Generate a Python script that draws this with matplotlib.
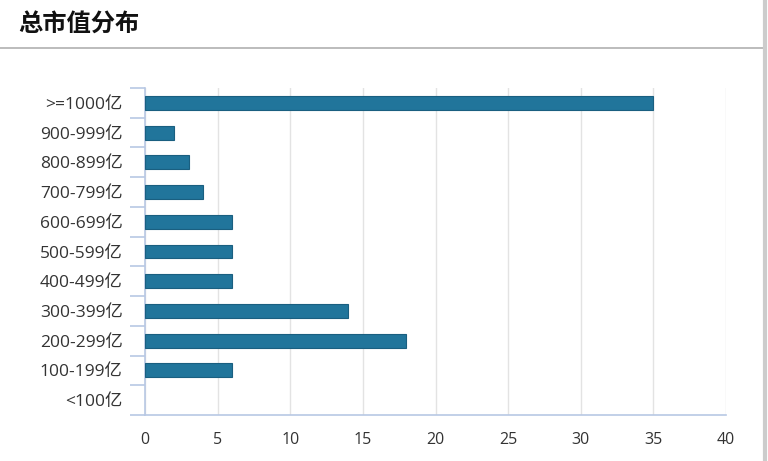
import matplotlib
matplotlib.use('Agg')
import matplotlib.pyplot as plt
from matplotlib.lines import Line2D
import numpy as np

plt.rcParams['font.family'] = ['Open Sans', 'Noto Sans CJK SC', 'DejaVu Sans']

categories = ['<100亿', '100-199亿', '200-299亿', '300-399亿', '400-499亿', '500-599亿',
              '600-699亿', '700-799亿', '800-899亿', '900-999亿', '>=1000亿']
counts = [0, 6, 18, 14, 6, 6, 6, 4, 3, 2, 35]
x_ticks = [0, 5, 10, 15, 20, 25, 30, 35, 40]

W, H = 768, 461
fig = plt.figure(figsize=(W / 100, H / 100), dpi=100)
fig.patch.set_facecolor('white')

# header
fig.text(18 / W, 1 - 25 / H, '总市值分布', fontsize=17.5, fontweight='bold',
         color='#111111', va='center', ha='left', family=['Noto Sans CJK SC'])
fig.add_artist(Line2D([0, 763 / W], [1 - 48.5 / H] * 2, color='#b0b0b0', lw=1.2))
fig.add_artist(Line2D([765 / W] * 2, [0, 1], color='#cccccc', lw=3))

ax = fig.add_axes([145 / W, 1 - 415 / H, (726 - 145) / W, (415 - 88) / H])
y = np.arange(len(categories))
ax.barh(y, counts, height=0.47, color='#21759b', edgecolor='#1a5f80',
        linewidth=[0.8 if c else 0 for c in counts], zorder=3)

ax.set_xlim(0, 40)
ax.set_ylim(-0.5, len(categories) - 0.5)
ax.set_xticks(x_ticks)
ax.set_xticklabels([str(t) for t in x_ticks])
ax.set_yticks(y)
ax.set_yticklabels(categories)
ax.set_yticks(np.arange(-0.5, len(categories), 1), minor=True)

ax.grid(axis='x', color='#e3e3e3', linewidth=1, zorder=0)
axis_col = '#b8c8e4'
for s in ['top', 'right']:
    ax.spines[s].set_visible(False)
ax.spines['left'].set_color(axis_col)
ax.spines['bottom'].set_color(axis_col)
ax.spines['left'].set_linewidth(1.2)
ax.spines['bottom'].set_linewidth(1.2)

ax.tick_params(axis='y', which='major', length=0, pad=16, labelsize=12.5, labelcolor='#333333')
ax.tick_params(axis='y', which='minor', length=11, color=axis_col, width=1.2)
ax.tick_params(axis='x', length=0, pad=12, labelsize=11.5, labelcolor='#333333')

fig.savefig('out.png', dpi=100, facecolor='white')
